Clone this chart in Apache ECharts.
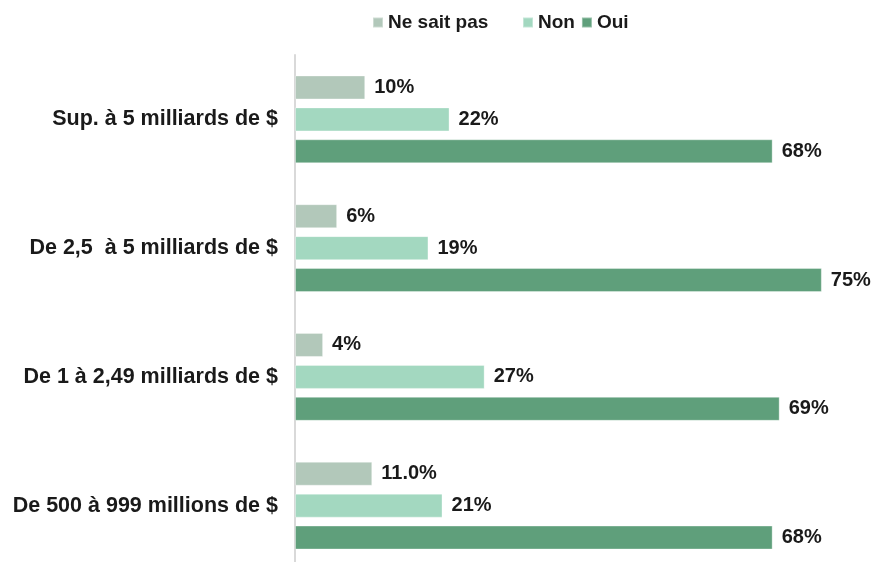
<!DOCTYPE html>
<html>
<head>
<meta charset="utf-8">
<script src="https://cdn.jsdelivr.net/npm/echarts@6/dist/echarts.min.js"></script>
<style>
  html, body { margin: 0; padding: 0; background: #ffffff; }
  #chart { width: 874px; height: 562px; }
</style>
</head>
<body>
<div id="chart"></div>
<script>
// Revenue brackets, listed top to bottom
const categories = [
  'Sup. à 5 milliards de $',
  'De 2,5  à 5 milliards de $',
  'De 1 à 2,49 milliards de $',
  'De 500 à 999 millions de $'
];
const seriesNames = ['Ne sait pas', 'Non', 'Oui'];
const neSaitPas = [10, 6, 4, 11.0];
const neSaitPasDecimals = [0, 0, 0, 1];
const non = [22, 19, 27, 21];
const oui = [68, 75, 69, 68];

const colors = ['#b2c8ba', '#a3d8c0', '#5f9f7b'];
const FONT = '"Liberation Sans", Arial, sans-serif';

function makeSeries(name, values, color, decimals) {
  return {
    name: name,
    type: 'bar',
    data: values,
    barWidth: 24,
    barGap: '33%',
    itemStyle: { color: color, borderColor: 'rgba(255,255,255,0.35)', borderWidth: 1 },
    label: {
      show: true,
      position: 'right',
      distance: 9,
      fontFamily: FONT,
      fontWeight: 'bold',
      fontSize: 20,
      color: '#1a1a1a',
      formatter: function (p) {
        const d = decimals ? decimals[p.dataIndex] : 0;
        return Number(p.value).toFixed(d) + '%';
      }
    }
  };
}

const legendText = { fontFamily: FONT, fontWeight: 'bold', fontSize: 19, color: '#1a1a1a' };

const chart = echarts.init(document.getElementById('chart'));
chart.setOption({
  animation: false,
  color: colors,
  legend: [
    {
      data: [seriesNames[0]],
      left: 367, top: 8,
      icon: 'rect', itemWidth: 10, itemHeight: 10, itemGap: 8,
      textStyle: legendText
    },
    {
      data: [seriesNames[1], seriesNames[2]],
      left: 517, top: 8,
      icon: 'rect', itemWidth: 10, itemHeight: 10, itemGap: 6,
      textStyle: legendText
    }
  ],
  // the last band runs a little past the bottom edge of the canvas
  grid: { left: 295, top: 55, width: 576, height: 515, containLabel: false, outerBoundsMode: 'none' },
  xAxis: {
    type: 'value',
    min: 0,
    max: 82,
    show: false
  },
  yAxis: {
    type: 'category',
    data: categories,
    inverse: true,
    axisLine: { show: true, lineStyle: { color: '#d9d9d9', width: 2 } },
    axisTick: { show: false },
    axisLabel: {
      margin: 17,
      fontFamily: FONT,
      fontWeight: 'bold',
      fontSize: 21.5,
      color: '#1a1a1a'
    }
  },
  series: [
    makeSeries(seriesNames[0], neSaitPas, colors[0], neSaitPasDecimals),
    makeSeries(seriesNames[1], non, colors[1]),
    makeSeries(seriesNames[2], oui, colors[2])
  ]
});
</script>
</body>
</html>
